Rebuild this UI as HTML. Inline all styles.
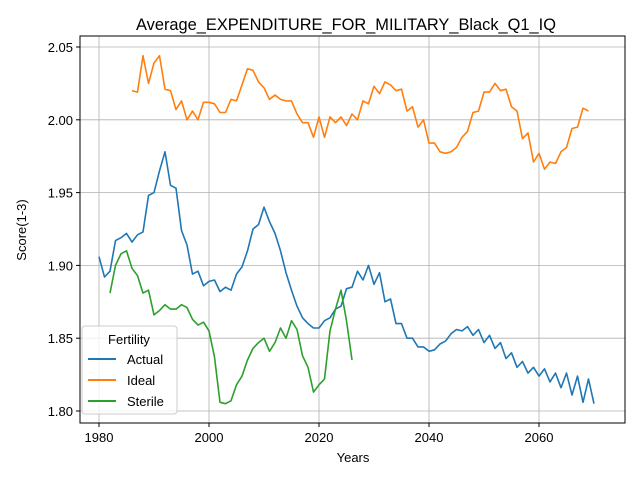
<!DOCTYPE html>
<html><head><meta charset="utf-8"><style>body{margin:0;background:#fff}svg{display:block;font-family:"Liberation Sans","DejaVu Sans",sans-serif}</style></head>
<body>
<svg id="chart" width="640" height="480">
<rect width="640" height="480" fill="#fff"/>
<text x="346" y="30" font-size="16.4" text-anchor="middle">Average_EXPENDITURE_FOR_MILITARY_Black_Q1_IQ</text>
<g id="grid"></g><g id="axes"></g><g id="series"></g>
<rect x="80" y="36" width="545" height="387" fill="none" stroke="#000" stroke-width="1"/>
<text x="353" y="462" font-size="13" text-anchor="middle">Years</text>
<text transform="translate(26,230) rotate(-90)" font-size="13" text-anchor="middle">Score(1-3)</text>
<g>
<rect x="82" y="326" width="95" height="88" rx="3" fill="#fff" fill-opacity="0.8" stroke="#ccc"/>
<text x="129" y="344" font-size="13" text-anchor="middle">Fertility</text>
<g><line x1="88" y1="359" x2="116" y2="359" stroke="#1f77b4" stroke-width="2"/><text x="127" y="364" font-size="13">Actual</text></g>
<g><line x1="88" y1="380" x2="116" y2="380" stroke="#ff7f0e" stroke-width="2"/><text x="127" y="385" font-size="13">Ideal</text></g>
<g><line x1="88" y1="401" x2="116" y2="401" stroke="#2ca02c" stroke-width="2"/><text x="127" y="406" font-size="13">Sterile</text></g>
</g>
</svg>
<script>
const xTicks=[1980,2000,2020,2040,2060];
const yTicks=[1.80,1.85,1.90,1.95,2.00,2.05];
const yTickLabels=["1.80","1.85","1.90","1.95","2.00","2.05"];
const actualStart=1980;
const actualValues=[1.906,1.892,1.896,1.917,1.919,1.922,1.916,1.921,1.923,1.948,1.950,1.965,1.978,1.955,1.953,1.924,1.914,1.894,1.896,1.886,1.889,1.890,1.882,1.885,1.883,1.894,1.899,1.910,1.925,1.928,1.940,1.930,1.922,1.910,1.895,1.883,1.872,1.864,1.860,1.857,1.857,1.862,1.864,1.870,1.872,1.884,1.885,1.896,1.890,1.900,1.887,1.895,1.875,1.877,1.860,1.860,1.850,1.850,1.844,1.844,1.841,1.842,1.846,1.848,1.853,1.856,1.855,1.858,1.852,1.856,1.847,1.852,1.843,1.847,1.836,1.840,1.830,1.834,1.826,1.830,1.824,1.829,1.820,1.826,1.816,1.826,1.811,1.824,1.806,1.822,1.805];
const idealStart=1986;
const idealValues=[2.020,2.019,2.044,2.025,2.039,2.044,2.021,2.020,2.007,2.013,2.000,2.006,2.000,2.012,2.012,2.011,2.005,2.005,2.014,2.013,2.024,2.035,2.034,2.026,2.022,2.014,2.017,2.014,2.013,2.013,2.004,1.998,1.998,1.988,2.002,1.988,2.002,1.998,2.002,1.996,2.004,2.000,2.013,2.011,2.023,2.018,2.026,2.024,2.020,2.021,2.006,2.009,1.995,2.000,1.984,1.984,1.978,1.977,1.978,1.981,1.988,1.992,2.005,2.006,2.019,2.019,2.025,2.020,2.021,2.009,2.006,1.987,1.991,1.971,1.977,1.966,1.971,1.970,1.978,1.981,1.994,1.995,2.008,2.006];
const sterileStart=1982;
const sterileValues=[1.881,1.900,1.908,1.910,1.898,1.893,1.881,1.883,1.866,1.869,1.873,1.870,1.870,1.873,1.871,1.863,1.859,1.861,1.855,1.837,1.806,1.805,1.807,1.818,1.824,1.835,1.843,1.847,1.850,1.841,1.847,1.857,1.850,1.862,1.856,1.838,1.830,1.813,1.818,1.822,1.855,1.870,1.883,1.862,1.835];
const NS="http://www.w3.org/2000/svg";
const xS=y=>99+(y-1980)*5.5;
const yS=v=>411-(v-1.80)*1456;
function mk(t,a,p){const e=document.createElementNS(NS,t);for(const k in a)e.setAttribute(k,a[k]);p.appendChild(e);return e;}
const grid=document.getElementById('grid'),axes=document.getElementById('axes'),ser=document.getElementById('series');
xTicks.forEach(t=>{const x=xS(t);
const g=mk('line',{x1:x,x2:x,y1:36,y2:423,stroke:'#b0b0b0','stroke-width':0.8},grid);


mk('line',{x1:x,x2:x,y1:423,y2:427,stroke:'#000'},axes);
const l=mk('text',{x:x,y:442,'font-size':13,'text-anchor':'middle'},axes);l.textContent=t;

});
yTicks.forEach((t,i)=>{const y=yS(t);
const g=mk('line',{x1:80,x2:625,y1:y,y2:y,stroke:'#b0b0b0','stroke-width':0.8},grid);


mk('line',{x1:76,x2:80,y1:y,y2:y,stroke:'#000'},axes);
const l=mk('text',{x:73,y:y+5,'font-size':13,'text-anchor':'end'},axes);l.textContent=yTickLabels[i];

});
function line(start,vals,color,name){
const pts=vals.map((v,i)=>xS(start+i).toFixed(1)+','+yS(v).toFixed(1)).join(' ');
const p=mk('polyline',{points:pts,fill:'none',stroke:color,'stroke-width':1.6,'stroke-linejoin':'round'},ser);

}
line(actualStart,actualValues,'#1f77b4','actual-line');
line(idealStart,idealValues,'#ff7f0e','ideal-line');
line(sterileStart,sterileValues,'#2ca02c','sterile-line');
</script>
</body></html>
